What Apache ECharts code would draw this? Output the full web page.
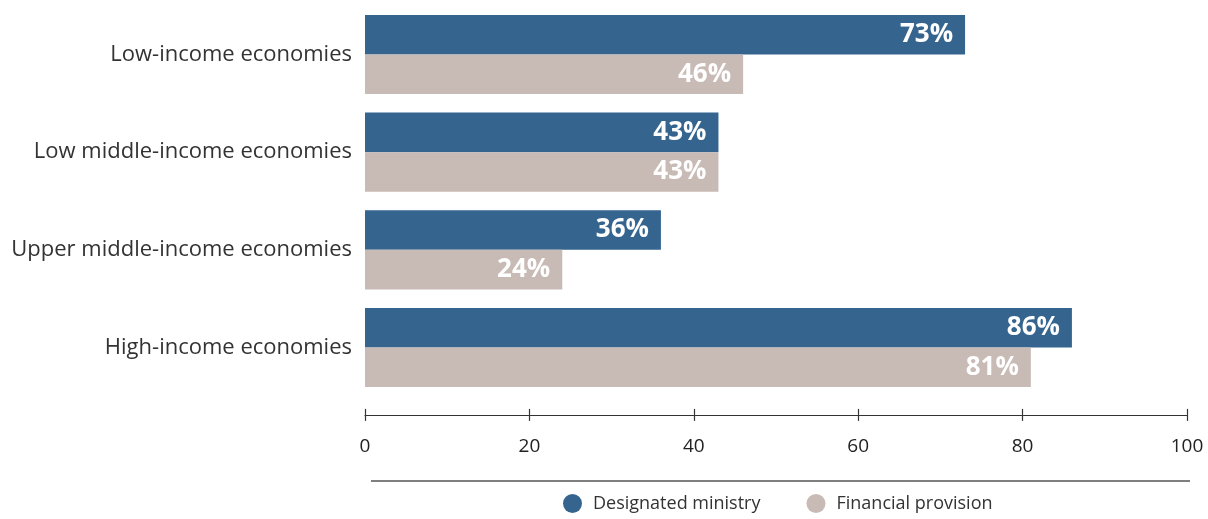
<!DOCTYPE html>
<html>
<head>
<meta charset="utf-8">
<script src="https://cdn.jsdelivr.net/npm/echarts@6/dist/echarts.min.js"></script>
<style>
  html, body { margin: 0; padding: 0; background: #ffffff; }
  #chart { width: 1208px; height: 519px; }
</style>
</head>
<body>
<div id="chart"></div>
<script>
// Income groups, top to bottom
const categories = [
  'Low-income economies',
  'Low middle-income economies',
  'Upper middle-income economies',
  'High-income economies'
];
// Share of economies (%)
const designatedMinistry = [73, 43, 36, 86];
const financialProvision = [46, 43, 24, 81];
const seriesNames = ['Designated ministry', 'Financial provision'];
const xTicks = [0, 20, 40, 60, 80, 100];

const FONT = '"Open Sans", Lato, sans-serif';
const BLUE = '#35658E';
const BEIGE = '#C8BAB5';

const chart = echarts.init(document.getElementById('chart'), null, { renderer: 'canvas' });

const valueLabel = {
  show: true,
  position: 'insideRight',
  distance: 12,
  color: '#ffffff',
  fontFamily: FONT,
  fontWeight: 'bold',
  fontSize: 26,
  formatter: p => p.value + '%'
};

chart.setOption({
  animation: false,
  grid: { left: 365, right: 21, top: 5.6, bottom: 122.6, containLabel: false },
  legend: {
    top: 489,
    left: 558,
    icon: 'circle',
    itemWidth: 19,
    itemHeight: 19,
    itemGap: 46,
    textStyle: { fontFamily: FONT, fontSize: 18, color: '#333', padding: [0, 0, 0, 6] },
    data: seriesNames
  },
  xAxis: [{
    type: 'value',
    min: xTicks[0],
    max: xTicks[xTicks.length - 1],
    interval: xTicks[1] - xTicks[0],
    offset: 18.5,
    axisLine: { show: true, lineStyle: { color: '#333', width: 1.2 } },
    axisTick: { show: true, length: 6, lineStyle: { color: '#333', width: 1.2 } },
    axisLabel: { margin: 22, fontFamily: FONT, fontSize: 19, color: '#222' },
    splitLine: { show: false }
  }, {
    // upward half of the crossing tick marks
    type: 'value',
    position: 'bottom',
    min: xTicks[0],
    max: xTicks[xTicks.length - 1],
    interval: xTicks[1] - xTicks[0],
    offset: 18.5,
    axisLine: { show: false },
    axisTick: { show: true, inside: true, length: 6, lineStyle: { color: '#333', width: 1.2 } },
    axisLabel: { show: false },
    splitLine: { show: false }
  }],
  yAxis: {
    type: 'category',
    inverse: true,
    data: categories,
    axisLine: { show: false },
    axisTick: { show: false },
    axisLabel: { margin: 13, fontFamily: FONT, fontSize: 22, color: '#333' }
  },
  graphic: [{
    type: 'line',
    shape: { x1: 371, y1: 481, x2: 1190, y2: 481 },
    style: { stroke: '#555', lineWidth: 1.3 }
  }],
  series: [{
    name: seriesNames[0],
    type: 'bar',
    data: designatedMinistry,
    itemStyle: { color: BLUE },
    barGap: '0%',
    barCategoryGap: '19%',
    label: valueLabel
  }, {
    name: seriesNames[1],
    type: 'bar',
    data: financialProvision,
    itemStyle: { color: BEIGE },
    barGap: '0%',
    barCategoryGap: '19%',
    label: valueLabel
  }]
});
</script>
</body>
</html>
